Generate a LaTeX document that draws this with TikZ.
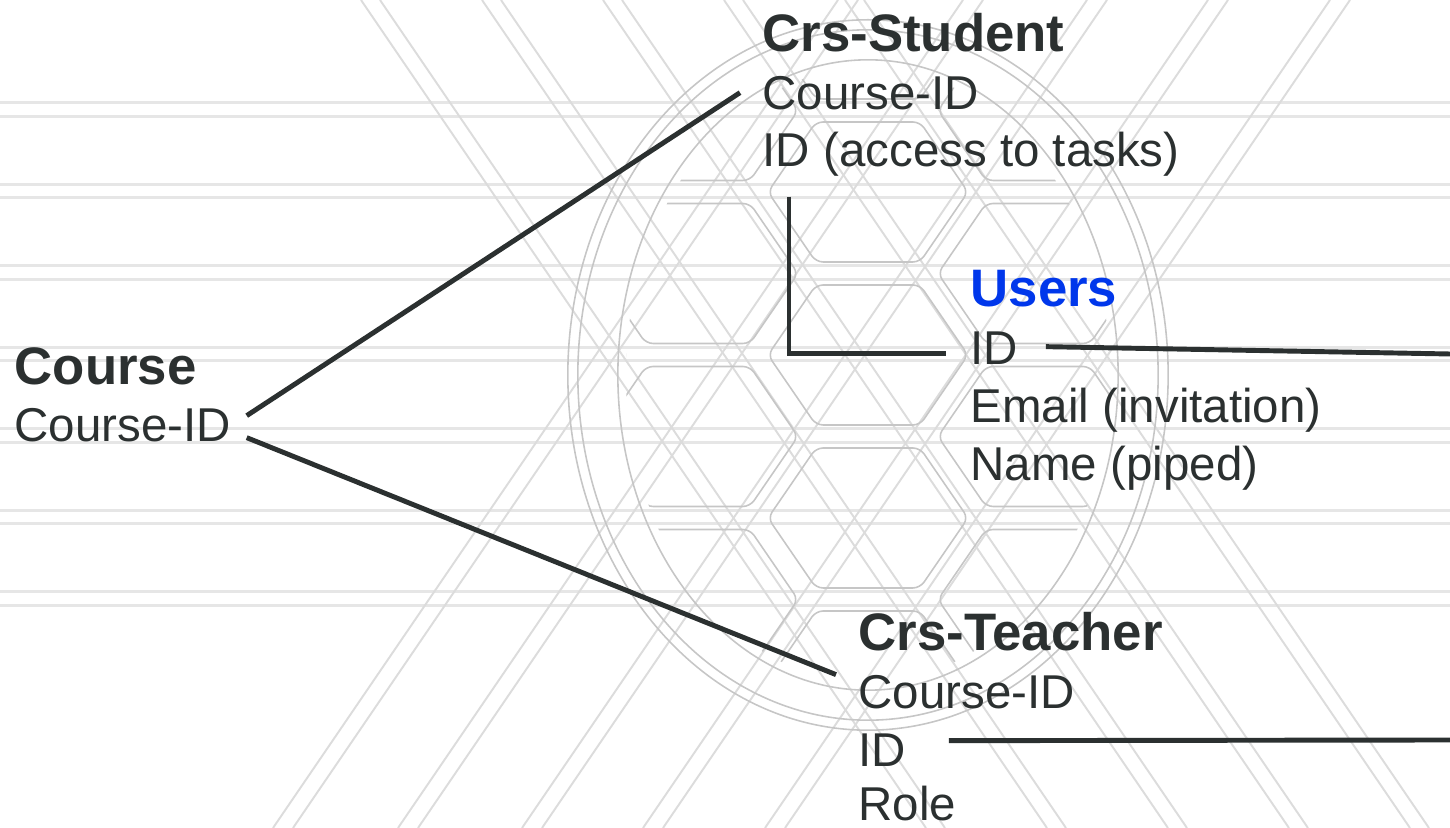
\documentclass[tikz,border=0pt]{standalone}
\usepackage{fontspec}
\setmainfont{Liberation Sans}
\usetikzlibrary{calc}
\definecolor{ink}{RGB}{43,48,48}
\definecolor{userblue}{RGB}{0,55,235}
\definecolor{rulegray}{RGB}{230,230,230}
\definecolor{diaggray}{RGB}{220,220,220}
\definecolor{shellgray}{RGB}{198,198,198}

\begin{document}
\begin{tikzpicture}[
    x=0.01cm, y=-0.01cm,
    entity/.style={anchor=base west, inner sep=0pt, text=ink, font=\fontsize{15}{18}\selectfont\bfseries},
    attr/.style={anchor=base west, inner sep=0pt, text=ink, font=\fontsize{13.5}{16}\selectfont},
    rel/.style={draw=ink, line width=1.4pt},
    hline/.style={draw=rulegray, line width=0.85pt},
    dline/.style={draw=diaggray, line width=0.55pt},
    shellline/.style={draw=shellgray, line width=0.45pt}
]
\useasboundingbox (0,0) rectangle (1450,828);

% Hintergrund: horizontale Doppellinien
\foreach \k in {0,...,6} {
    \draw[hline] (0,103+81.5*\k) -- (1450,103+81.5*\k);
    \draw[hline] (0,116.5+81.5*\k) -- (1450,116.5+81.5*\k);
}

% Hintergrund: schraege Doppellinien
\foreach \t in {361,482,603,724,845} {
    \draw[dline] (\t,0) -- ++(565,828);
    \draw[dline] (\t+19,0) -- ++(565,828);
}
\foreach \b in {273,398,522,643,765} {
    \draw[dline] (\b,828) -- ++(565,-828);
    \draw[dline] (\b+20,828) -- ++(565,-828);
}

% Panzer
\draw[shellline] (868,375) ellipse [x radius=3cm, y radius=3.55cm];
\draw[shellline] (868,375) ellipse [x radius=2.9cm, y radius=3.45cm];
\draw[shellline] (868,375) ellipse [x radius=2.5cm, y radius=3.15cm];
\begin{scope}
    \clip (868,375) ellipse [x radius=2.42cm, y radius=3.07cm];
    \foreach \cx/\dy in {528/0,698/-81.5,868/0,1038/-81.5,1208/0} {
        \foreach \r in {-1,...,4} {
            \draw[shellline, rounded corners=2pt] (\cx,192+\dy+163*\r)
                +(-100,0) -- +(-52,-70) -- +(52,-70) -- +(100,0) -- +(52,70) -- +(-52,70) -- cycle;
        }
    }
\end{scope}

% Course
\node[entity] (crs) at (14,385) {Course};
\node[attr] (crs-cid) at (14,442) {Course-ID};

% Crs-Student
\node[entity] (stu) at (762,52) {Crs-Student};
\node[attr] (stu-cid) at (762,110) {Course-ID};
\node[attr] (stu-id) at (762,167) {ID (access to tasks)};

% Users
\node[entity, text=userblue] (usr) at (970,307) {Users};
\node[attr] (usr-id) at (970,365) {ID};
\node[attr] (usr-mail) at (970,423) {Email (invitation)};
\node[attr] (usr-name) at (970,481) {Name (piped)};

% Crs-Teacher
\node[entity] (tch) at (858,651) {Crs-Teacher};
\node[attr] (tch-cid) at (858,709) {Course-ID};
\node[attr] (tch-id) at (858,767) {ID};
\node[attr] (tch-role) at (858,821) {Role};

% freie Enden am rechten Rand
\coordinate (usr-out) at (1450,354);
\coordinate (tch-out) at (1450,740);

% Verbindungen
\draw[rel] ($(crs-cid.east)+(15,-10)$) -- ($(stu-cid.west)+(-22,-1)$);
\draw[rel] ($(crs-cid.east)+(15,12)$) -- ($(tch-cid.west)+(-22,-18)$);
\draw[rel] ($(stu-id.south west)+(27,19)$) |- ($(usr-id.west)+(-24,5)$);
\draw[rel] ($(usr-id.east)+(27,-2)$) -- (usr-out);
\draw[rel] ($(tch-id.east)+(42,-10)$) -- (tch-out);
\end{tikzpicture}
\end{document}
